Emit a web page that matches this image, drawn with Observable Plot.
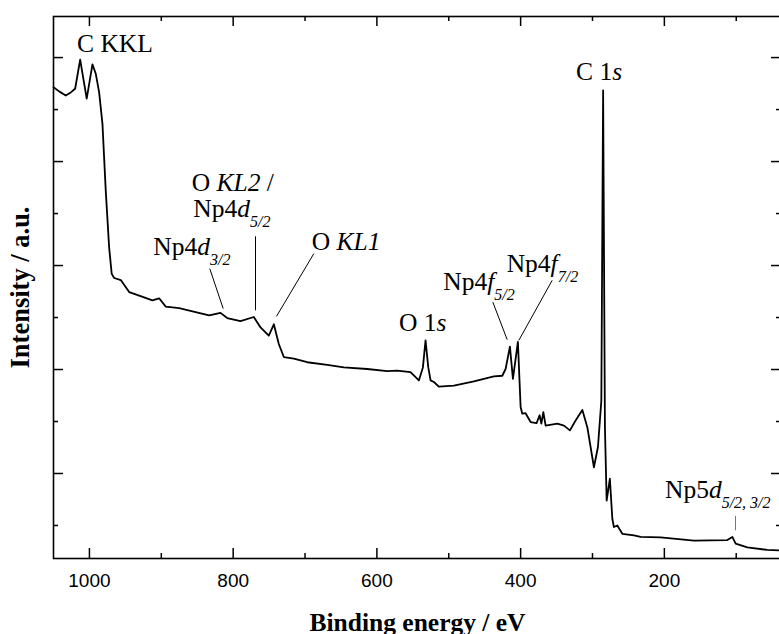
<!DOCTYPE html>
<html><head><meta charset="utf-8">
<script src="https://cdn.jsdelivr.net/npm/d3@7"></script>
<script src="https://cdn.jsdelivr.net/npm/@observablehq/plot@0.6"></script>
<style>html,body{margin:0;padding:0;overflow:hidden;background:#fff;} svg{display:block;max-width:none !important;}</style>
</head><body><div id="chart"></div>
<script>
// Binding energy (eV) and intensity (a.u.)
const energy = [1050, 1042.2, 1033.0, 1026.0, 1019.9, 1012.9, 1003.8, 995.8, 991.2, 986.5, 981.9, 977.3, 972.6, 969.0, 965.6, 956.4, 944.7, 930.8, 912.3, 903.0, 893.8, 875.1, 856.6, 833.4, 817.6, 808.3, 789.8, 771.3, 761.9, 750.4, 743.4, 736.5, 729.5, 715.6, 697.0, 669.1, 646.0, 613.4, 585.6, 571.7, 553.2, 541.6, 536.0, 532.3, 528.5, 525.3, 520.7, 513.8, 492.9, 465.0, 437.2, 425.5, 420.9, 414.9, 410.7, 403.8, 400.0, 397.7, 393.1, 386.1, 377.8, 373.6, 371.2, 368.4, 365.2, 348.9, 339.7, 331.4, 323.5, 314.1, 307.2, 298.0, 292.4, 287.7, 285.2, 282.7, 280.3, 275.8, 272.4, 270.2, 265.5, 258.5, 242.3, 233.0, 205.2, 158.8, 112.4, 105.4, 100.8, 84.6, 56.7, 37];
const intensity = [9.43, 9.35, 9.27, 9.33, 9.40, 9.96, 9.21, 9.87, 9.69, 9.33, 8.73, 7.44, 6.35, 5.84, 5.76, 5.72, 5.49, 5.42, 5.33, 5.37, 5.21, 5.18, 5.12, 5.04, 5.09, 4.99, 4.93, 5.01, 4.81, 4.65, 4.87, 4.49, 4.24, 4.21, 4.14, 4.09, 4.04, 4.01, 3.97, 3.98, 3.95, 3.79, 4.04, 4.56, 4.04, 3.79, 3.76, 3.67, 3.69, 3.77, 3.87, 3.88, 4.01, 4.44, 3.82, 4.53, 3.28, 3.15, 3.16, 2.99, 2.97, 3.12, 2.96, 3.18, 2.92, 2.96, 2.92, 2.83, 3.02, 3.22, 2.89, 2.12, 2.51, 3.40, 9.37, 2.89, 1.48, 1.90, 1.13, 0.97, 1.00, 0.84, 0.81, 0.78, 0.77, 0.71, 0.72, 0.78, 0.65, 0.58, 0.53, 0.52];

const xMajorTicks = [1000, 800, 600, 400, 200];
const xMinorTicks = [900, 700, 500, 300, 100];
const yMajorTicks = [2, 4, 6, 8, 10];
const yMinorTicks = [1, 3, 5, 7, 9];

const xTitle = "Binding energy / eV";
const yTitle = "Intensity / a.u.";

// Peak labels (anchor in data coordinates); parts: text, italic, subscript
const annotations = [
  {x: 1016.6, y: 10.10, parts: [{t: "C KKL"}]},
  {x: 857.0, y: 7.426, parts: [{t: "O "}, {t: "KL2", i: true}, {t: " /"}]},
  {x: 854.8, y: 6.931, parts: [{t: "Np4"}, {t: "d", i: true}, {t: "5/2", i: true, sub: true}]},
  {x: 910.4, y: 6.195, parts: [{t: "Np4"}, {t: "d", i: true}, {t: "3/2", i: true, sub: true}]},
  {x: 690.0, y: 6.291, parts: [{t: "O "}, {t: "KL1", i: true}]},
  {x: 568.5, y: 4.734, parts: [{t: "O 1"}, {t: "s", i: true}]},
  {x: 506.9, y: 5.522, parts: [{t: "Np4"}, {t: "f", i: true}, {t: "5/2", i: true, sub: true}]},
  {x: 418.7, y: 5.874, parts: [{t: "Np4"}, {t: "f", i: true}, {t: "7/2", i: true, sub: true}]},
  {x: 322.2, y: 9.560, parts: [{t: "C 1"}, {t: "s", i: true}]},
  {x: 198.4, y: 1.518, parts: [{t: "Np5"}, {t: "d", i: true}, {t: "5/2, 3/2", i: true, sub: true}]}
];

// Leader lines from labels to peaks
const leaders = [
  {x1: 832.5, y1: 5.939, x2: 813.9, y2: 5.171, c: "black"},
  {x1: 768.9, y1: 6.561, x2: 768.9, y2: 5.138, c: "black"},
  {x1: 687.8, y1: 6.228, x2: 739.7, y2: 5.023, c: "black"},
  {x1: 438.7, y1: 5.297, x2: 418.7, y2: 4.574, c: "black"},
  {x1: 356.1, y1: 5.715, x2: 402.5, y2: 4.561, c: "black"},
  {x1: 101.0, y1: 1.183, x2: 101.0, y2: 0.908, c: "#777"}
];

const W = 782, H = 634, mL = 53, mR = 1, mT = 16, mB = 76;
const FW = W - mL - mR, FH = H - mT - mB;
const tickStyle = {stroke: "black", strokeWidth: 1.5};
const plot = Plot.plot({
  width: W, height: H,
  marginLeft: mL, marginRight: mR, marginTop: mT, marginBottom: mB,
  x: {domain: [1050, 37], axis: null},
  y: {domain: [0.365, 10.79], axis: null},
  style: {fontFamily: "Liberation Sans", background: "white", color: "black", overflow: "visible", maxWidth: "none"},
  marks: [
    // inward ticks on all four sides
    Plot.ruleX(xMajorTicks, {insetTop: FH - 10, ...tickStyle}),
    Plot.ruleX(xMinorTicks, {insetTop: FH - 5, ...tickStyle}),
    Plot.ruleX(xMajorTicks, {insetBottom: FH - 10, ...tickStyle}),
    Plot.ruleX(xMinorTicks, {insetBottom: FH - 5, ...tickStyle}),
    Plot.ruleY(yMajorTicks, {insetRight: FW - 10, ...tickStyle}),
    Plot.ruleY(yMinorTicks, {insetRight: FW - 5, ...tickStyle}),
    Plot.ruleY(yMajorTicks, {insetLeft: FW - 10, ...tickStyle}),
    Plot.ruleY(yMinorTicks, {insetLeft: FW - 5, ...tickStyle}),
    Plot.axisX(xMajorTicks, {anchor: "bottom", tickSize: 0, tickPadding: 15, fontSize: 19, fill: "black", tickFormat: d => String(d)}),
    Plot.frame({stroke: "black", strokeWidth: 1.6}),
    Plot.line(intensity, {x: energy, y: intensity, stroke: "black", strokeWidth: 1.8, strokeLinejoin: "round"}),
    Plot.link(leaders, {x1: "x1", y1: "y1", x2: "x2", y2: "y2", stroke: d => d.c, strokeWidth: 1}),
    Plot.text([xTitle], {frameAnchor: "bottom", dy: 64, textAnchor: "middle", lineAnchor: "middle", fontSize: 25.5, fontWeight: "bold", fontFamily: "Liberation Serif", fill: "black"}),
    Plot.text([yTitle], {frameAnchor: "left", dx: -33, rotate: -90, textAnchor: "middle", lineAnchor: "middle", fontSize: 26.5, fontWeight: "bold", fontFamily: "Liberation Serif", fill: "black"})
  ]
});

const xs = plot.scale("x"), ys = plot.scale("y");
const g = d3.select(plot).append("g")
  .attr("font-family", "Liberation Serif").attr("font-size", 25.5)
  .attr("fill", "black").attr("text-anchor", "start");
for (const a of annotations) {
  const t = g.append("text").attr("x", xs.apply(a.x)).attr("y", ys.apply(a.y));
  for (const p of a.parts) {
    const s = t.append("tspan").text(p.t);
    if (p.i) s.attr("font-style", "italic");
    if (p.sub) s.attr("font-size", 16).attr("dy", 10);
  }
}
document.getElementById("chart").append(plot);
</script>
</body></html>
